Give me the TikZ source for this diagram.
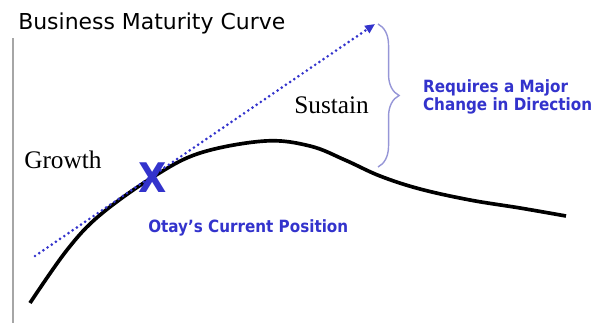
\documentclass[tikz,border=0pt]{standalone}
\usepackage{fontspec}
\setmainfont{Liberation Serif}
\newfontfamily\titlefont{DejaVu Sans}
\newfontfamily\notefont{DejaVu Sans Condensed}
\usetikzlibrary{arrows.meta,positioning,decorations.pathreplacing}
\definecolor{noteblue}{RGB}{51,51,204}
\definecolor{bracegray}{RGB}{150,150,215}
\tikzset{
  bluenote/.style={font=\notefont\bfseries\fontsize{12}{12.8}\selectfont, text=noteblue, align=left},
  phase/.style={font=\fontsize{18}{20}\selectfont}
}

\begin{document}
\begin{tikzpicture}[x=0.025cm, y=-0.025cm, every node/.style={inner sep=0pt}]
  \useasboundingbox (0,0) rectangle (600,323);

  % Title
  \node[anchor=base west, font=\titlefont\fontsize{15.6}{18}\selectfont] (title) at (18,29) {Business Maturity Curve};

  % Axis
  \draw[gray!70, line width=0.8pt] (13,38) -- (13,323);

  % Maturity curve
  \draw[line width=2.6pt] plot[smooth, tension=0.6] coordinates {
    (30,303) (67,250) (100,215) (153,177) (200,153) (265,141)
    (310,146) (345,160) (380,176) (420,189) (470,200) (520,208) (566,216)};

  % Phases
  \node[phase, anchor=base west] (growth) at (24,168) {Growth};
  \node[phase, anchor=base west] (sustain) at (294,113) {Sustain};

  % Current position
  \node[font=\notefont\bfseries\fontsize{29}{29}\selectfont, text=noteblue] (pos) at (153,178) {X};
  \node[bluenote, anchor=west] (poslbl) at (148,228) {Otay’s Current Position};

  % Desired direction
  \coordinate (dirstart) at (35,256);
  \coordinate (dirend) at (375,24);
  \draw[noteblue, line width=2.1pt, line cap=round, dash pattern=on 0pt off 3.6pt,
        -{Triangle[length=7pt, width=6pt]}] (dirstart) -- (dirend);

  % Brace
  \coordinate (bracetop) at (378,24);
  \coordinate (bracebot) at (378,167);
  \coordinate (bracetip) at (400,97);
  \draw[bracegray, line width=1pt, decorate, decoration={brace, amplitude=15pt}] (bracetop) -- (bracebot);
  \node[bluenote, anchor=west, right=5.7mm of bracetip] (change) {Requires a Major\\Change in Direction};
\end{tikzpicture}
\end{document}
